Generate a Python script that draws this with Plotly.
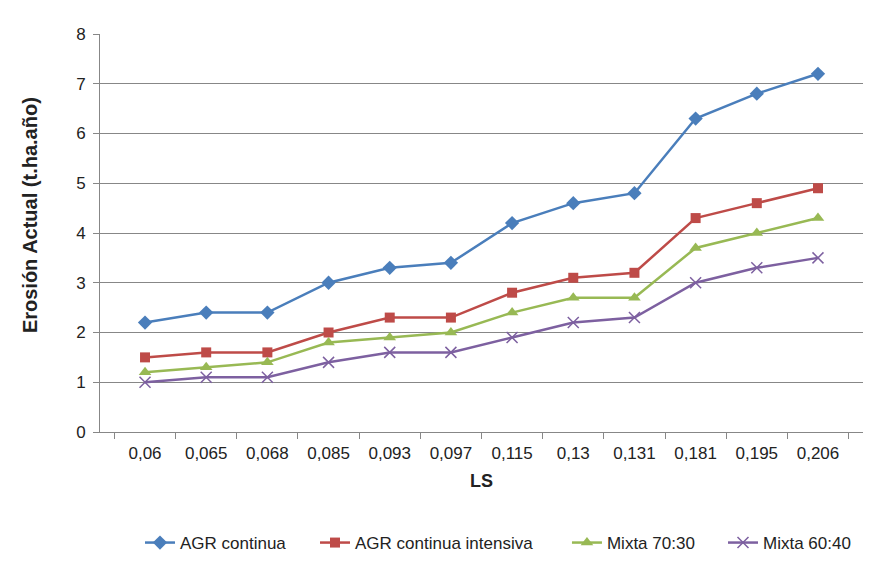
import plotly.graph_objects as go

# LS classes on the horizontal axis
ls_labels = ["0,06", "0,065", "0,068", "0,085", "0,093", "0,097",
             "0,115", "0,13", "0,131", "0,181", "0,195", "0,206"]

# Actual erosion (t.ha.año) per land-use scenario
agr_continua = [2.2, 2.4, 2.4, 3.0, 3.3, 3.4, 4.2, 4.6, 4.8, 6.3, 6.8, 7.2]
agr_intensiva = [1.5, 1.6, 1.6, 2.0, 2.3, 2.3, 2.8, 3.1, 3.2, 4.3, 4.6, 4.9]
mixta_70_30 = [1.2, 1.3, 1.4, 1.8, 1.9, 2.0, 2.4, 2.7, 2.7, 3.7, 4.0, 4.3]
mixta_60_40 = [1.0, 1.1, 1.1, 1.4, 1.6, 1.6, 1.9, 2.2, 2.3, 3.0, 3.3, 3.5]

y_ticks = [0, 1, 2, 3, 4, 5, 6, 7, 8]

font_family = "Liberation Sans, Arial, sans-serif"
axis_grey = "#878787"

series = [
    ("AGR continua", agr_continua, "#4A7EBB", dict(symbol="diamond", size=11)),
    ("AGR continua intensiva", agr_intensiva, "#BE4B48", dict(symbol="square", size=10)),
    ("Mixta 70:30", mixta_70_30, "#98B954", dict(symbol="triangle-up", size=11)),
    ("Mixta 60:40", mixta_60_40, "#7D60A0", dict(symbol="x-thin", size=11,
                                                    line=dict(width=1.5, color="#7D60A0"))),
]

# one legend box per entry so the row can be spaced out evenly along the bottom
legend_ids = ["legend", "legend2", "legend3", "legend4"]
legend_x = [0.0524, 0.2818, 0.612, 0.8165]

fig = go.Figure()
for (name, values, color, marker), lid in zip(series, legend_ids):
    fig.add_trace(go.Scatter(
        x=ls_labels, y=values, name=name, mode="lines+markers",
        line=dict(color=color, width=2.5),
        marker=dict(color=color, **marker),
        legend=lid,
    ))

legend_common = dict(orientation="h", yref="container", y=0.0355, yanchor="middle",
                     xanchor="left", font=dict(size=17, color="#222222"),
                     bgcolor="rgba(0,0,0,0)", borderwidth=0)
legend_layout = {lid: dict(x=lx, **legend_common) for lid, lx in zip(legend_ids, legend_x)}

fig.update_layout(
    width=874, height=563,
    margin=dict(l=100, r=11, t=34, b=131, autoexpand=False),
    paper_bgcolor="white", plot_bgcolor="white",
    font=dict(family=font_family, size=17, color="#222222"),
    showlegend=True,
    xaxis=dict(
        type="category", tickson="boundaries", ticks="outside", ticklen=6,
        tickcolor=axis_grey, showline=True, linecolor=axis_grey, linewidth=1,
        showgrid=False, tickfont=dict(size=17), ticklabelstandoff=6,
        automargin=False,
        title=dict(text="<b>LS</b>", font=dict(size=18), standoff=11),
    ),
    yaxis=dict(
        range=[0, 8], tickvals=y_ticks, ticks="outside", ticklen=6,
        tickcolor=axis_grey, showline=True, linecolor=axis_grey, linewidth=1,
        showgrid=True, gridcolor=axis_grey, gridwidth=1, zeroline=False,
        tickfont=dict(size=17), ticklabelstandoff=4, automargin=False,
    ),
    **legend_layout,
)

# vertical axis title, sitting slightly above the plot's mid-height
fig.add_annotation(
    text="<b>Erosión Actual (t.ha.año)</b>", textangle=-90,
    xref="paper", yref="paper", x=-0.0917, y=0.545,
    xanchor="center", yanchor="middle", showarrow=False,
    font=dict(size=20, color="#222222"),
)

fig.write_html("out.html")
